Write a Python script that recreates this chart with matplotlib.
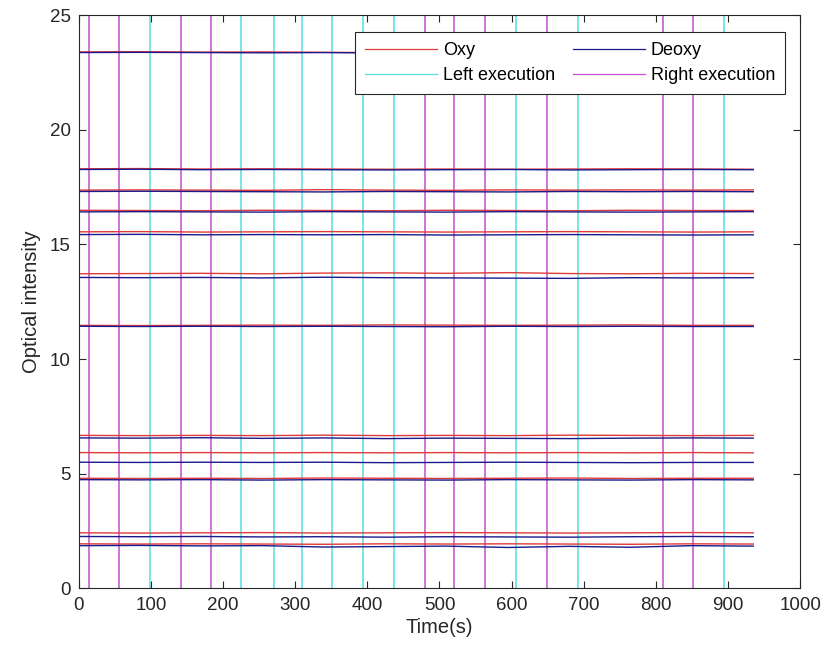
import matplotlib
matplotlib.use('Agg')
import numpy as np
import matplotlib.pyplot as plt

plt.rcParams['font.family'] = ['Liberation Sans', 'DejaVu Sans']

# sample times of the traces (s)
time_s = [0, 85, 170, 255, 340, 425, 510, 595, 680, 765, 850, 935]

# oxy / deoxy traces per channel
oxy = [
    [23.40, 23.41, 23.39, 23.40, 23.38, 23.37, 23.38, 23.37, 23.38, 23.37, 23.38, 23.37],
    [18.30, 18.31, 18.29, 18.30, 18.29, 18.28, 18.29, 18.28, 18.29, 18.30, 18.29, 18.28],
    [17.37, 17.38, 17.37, 17.36, 17.39, 17.37, 17.36, 17.38, 17.37, 17.38, 17.37, 17.38],
    [16.49, 16.48, 16.47, 16.49, 16.48, 16.47, 16.49, 16.48, 16.47, 16.49, 16.48, 16.48],
    [15.55, 15.56, 15.54, 15.55, 15.56, 15.55, 15.54, 15.55, 15.56, 15.55, 15.54, 15.55],
    [13.72, 13.73, 13.74, 13.72, 13.75, 13.76, 13.74, 13.77, 13.73, 13.72, 13.74, 13.73],
    [11.47, 11.46, 11.47, 11.48, 11.47, 11.49, 11.48, 11.47, 11.48, 11.49, 11.47, 11.47],
    [6.67, 6.66, 6.67, 6.66, 6.68, 6.66, 6.67, 6.66, 6.68, 6.67, 6.66, 6.67],
    [5.92, 5.91, 5.92, 5.91, 5.92, 5.91, 5.92, 5.91, 5.92, 5.91, 5.92, 5.91],
    [4.80, 4.79, 4.80, 4.79, 4.81, 4.80, 4.79, 4.80, 4.81, 4.79, 4.80, 4.80],
    [2.42, 2.41, 2.42, 2.43, 2.41, 2.42, 2.43, 2.42, 2.41, 2.42, 2.43, 2.42],
    [1.94, 1.93, 1.94, 1.93, 1.92, 1.94, 1.93, 1.94, 1.93, 1.92, 1.94, 1.93],
]
deoxy = [
    [23.37, 23.38, 23.37, 23.36, 23.37, 23.35, 23.36, 23.35, 23.36, 23.35, 23.36, 23.35],
    [18.27, 18.28, 18.26, 18.27, 18.26, 18.25, 18.26, 18.27, 18.25, 18.26, 18.27, 18.26],
    [17.31, 17.32, 17.31, 17.30, 17.29, 17.31, 17.30, 17.29, 17.31, 17.30, 17.31, 17.30],
    [16.42, 16.43, 16.42, 16.41, 16.43, 16.42, 16.41, 16.43, 16.42, 16.41, 16.42, 16.43],
    [15.43, 15.44, 15.42, 15.43, 15.42, 15.43, 15.41, 15.42, 15.43, 15.42, 15.41, 15.42],
    [13.56, 13.55, 13.56, 13.54, 13.57, 13.55, 13.54, 13.53, 13.52, 13.55, 13.54, 13.55],
    [11.43, 11.42, 11.43, 11.42, 11.43, 11.42, 11.41, 11.43, 11.42, 11.43, 11.42, 11.42],
    [6.56, 6.55, 6.57, 6.54, 6.56, 6.53, 6.55, 6.54, 6.53, 6.55, 6.56, 6.55],
    [5.50, 5.49, 5.50, 5.49, 5.50, 5.48, 5.49, 5.50, 5.49, 5.48, 5.49, 5.49],
    [4.74, 4.73, 4.74, 4.72, 4.74, 4.73, 4.72, 4.74, 4.73, 4.72, 4.74, 4.73],
    [2.26, 2.25, 2.26, 2.24, 2.25, 2.23, 2.25, 2.24, 2.23, 2.25, 2.26, 2.25],
    [1.86, 1.87, 1.85, 1.86, 1.80, 1.82, 1.84, 1.78, 1.83, 1.79, 1.86, 1.84],
]

# task onsets (s)
left_onsets = [98, 225, 270, 310, 351, 394, 437, 606, 692, 894]
right_onsets = [14, 55, 141, 183, 480, 520, 563, 649, 810, 851]

OXY_C = '#e03a3a'
DEOXY_C = '#1a1a8c'
LEFT_C = '#55dede'
RIGHT_C = '#c050cc'

fig = plt.figure(figsize=(8.3, 6.61), dpi=100)
ax = fig.add_axes([0.095, 0.110, 0.869, 0.867])

for t in left_onsets:
    ax.axvline(t, color=LEFT_C, lw=1.1, zorder=1)
for t in right_onsets:
    ax.axvline(t, color=RIGHT_C, lw=1.1, zorder=1)

for o, d in zip(oxy, deoxy):
    ax.plot(time_s, o, color=OXY_C, lw=1.0, zorder=2)
    ax.plot(time_s, d, color=DEOXY_C, lw=1.0, zorder=3)

h_oxy, = ax.plot([], [], color=OXY_C, lw=0.9)
h_deoxy, = ax.plot([], [], color=DEOXY_C, lw=0.9)
h_left, = ax.plot([], [], color=LEFT_C, lw=0.9)
h_right, = ax.plot([], [], color=RIGHT_C, lw=0.9)
# matplotlib fills legend columns first, so order for row-wise reading
leg = ax.legend([h_oxy, h_left, h_deoxy, h_right],
                ['Oxy', 'Left execution', 'Deoxy', 'Right execution'],
                loc='upper right', ncol=2, fontsize=13, frameon=True,
                fancybox=False, edgecolor='#262626', framealpha=1,
                handlelength=4.0, columnspacing=1.0,
                handletextpad=0.3, borderpad=0.55, labelspacing=0.45,
                bbox_to_anchor=(0.979, 0.970), borderaxespad=0)
leg.get_frame().set_linewidth(0.8)
leg.set_zorder(5)

ax.set_xlim(0, 1000)
ax.set_ylim(0, 25)
ax.set_xticks(np.arange(0, 1001, 100))
ax.set_yticks(np.arange(0, 26, 5))
ax.tick_params(direction='in', top=True, right=True, labelsize=13.5,
               length=5, width=0.8, colors='#262626', pad=6)
for s in ax.spines.values():
    s.set_linewidth(0.8)
    s.set_color('#262626')
ax.set_xlabel('Time(s)', fontsize=14.5, color='#262626', labelpad=3)
ax.set_ylabel('Optical intensity', fontsize=14.5, color='#262626', labelpad=6)

fig.savefig('out.png', dpi=100)
